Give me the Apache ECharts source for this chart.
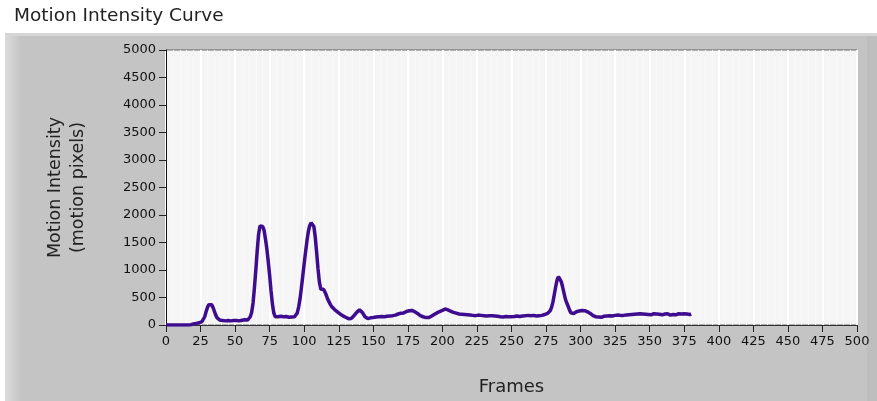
<!DOCTYPE html>
<html>
<head>
<meta charset="utf-8">
<script src="https://cdn.jsdelivr.net/npm/echarts@6/dist/echarts.min.js"></script>
<style>
html,body{margin:0;padding:0;background:#ffffff;}
#chart{width:877px;height:401px;}
</style>
</head>
<body>
<div id="chart"></div>
<script>
const chartTitle = "Motion Intensity Curve";
const xAxisTitle = "Frames";
const yAxisTitle = "Motion Intensity\n(motion pixels)";
const xTicks = [0,25,50,75,100,125,150,175,200,225,250,275,300,325,350,375,400,425,450,475,500];
const yTicks = [0,500,1000,1500,2000,2500,3000,3500,4000,4500,5000];
const intensity = [
0,0,0,0,0,0,0,0,0,0,0,0,0,0,0,0,0,0,5,10,
20,25,30,35,40,50,60,90,150,240,
320,370,385,370,320,250,180,130,100,90,
85,80,90,75,85,80,90,75,85,80,
90,80,85,75,90,85,80,95,85,90,
110,150,230,400,680,1000,1350,1650,1800,1830,
1790,1720,1560,1380,1150,900,620,380,220,150,
140,150,135,160,145,150,140,155,150,140,
150,145,160,150,175,220,330,480,680,900,
1120,1330,1530,1700,1810,1860,1870,1790,1600,1320,
1020,780,650,640,650,600,540,470,420,370,
330,300,280,260,240,220,200,180,165,150,
140,125,115,110,120,140,170,200,230,260,
275,260,230,190,150,125,115,120,130,125,
135,130,145,140,150,145,155,160,150,165,
160,170,165,175,170,185,180,190,200,210,
215,225,220,235,245,250,260,255,265,250,
240,225,210,190,170,160,150,140,135,130,
135,145,160,175,190,205,220,235,245,255,
265,280,290,285,275,260,250,240,230,220,
215,210,200,205,195,200,190,195,185,190,
180,185,175,180,170,175,180,170,175,165,
170,175,165,180,170,160,170,175,165,170,
160,165,150,160,145,150,155,140,150,145,
150,160,155,150,165,160,155,170,165,160,
170,160,175,165,170,160,175,170,165,175,
170,180,175,185,190,200,210,230,260,320,
420,560,700,820,880,860,790,690,580,470,
400,340,270,220,200,210,230,240,250,255,
260,265,255,260,250,240,230,210,190,170,
160,150,155,145,150,140,150,160,170,165,
175,170,180,165,185,175,170,180,190,175,
185,175,190,180,195,185,200,190,205,195,
210,200,195,205,190,200,210,195,205,190,
200,185,195,205,190,200,180,195,205,185,
190,200,185,205,195,180,200,190,210,185,
195,205,180,200,190,205,185,200,195,190,
200
];
const frames = intensity.map((_, i) => i);
const seriesData = frames.map((f, i) => [f, intensity[i]]);

const chart = echarts.init(document.getElementById('chart'), null, {renderer: 'canvas'});
const font = 'DejaVu Sans';
chart.setOption({
  animation: false,
  backgroundColor: '#ffffff',
  graphic: [
    {type: 'rect', z: -10, shape: {x: 5, y: 33, width: 872, height: 368}, style: {fill: '#c4c4c4'}},
    {type: 'rect', z: -9, shape: {x: 5, y: 33, width: 16, height: 368},
      style: {fill: new echarts.graphic.LinearGradient(0, 0, 1, 0, [{offset: 0, color: '#dcdcdc'}, {offset: 1, color: '#c4c4c4'}])}},
    {type: 'rect', z: -9, shape: {x: 5, y: 33, width: 872, height: 3}, style: {fill: '#d6d6d6'}},
    {type: 'rect', z: -9, shape: {x: 867, y: 36, width: 10, height: 365}, style: {fill: '#bebebe'}},
    {type: 'text', left: 14, top: 7, style: {text: chartTitle, font: '18.5px "DejaVu Sans"', fill: '#222222'}}
  ],
  grid: {left: 166, top: 50, width: 691, height: 275, show: true, backgroundColor: '#f5f5f5', borderColor: '#666666', borderWidth: 1},
  xAxis: {
    type: 'value', min: 0, max: 500, interval: 25,
    name: xAxisTitle, nameLocation: 'middle', nameGap: 53,
    nameTextStyle: {fontFamily: font, fontSize: 18, color: '#222222'},
    axisLine: {show: true, lineStyle: {color: '#333333', width: 1}},
    axisTick: {show: true, inside: false, length: 7, lineStyle: {color: '#222222'}},
    axisLabel: {fontFamily: font, fontSize: 13, color: '#111111', margin: 10,
      formatter: v => String(v)},
    splitLine: {show: true, lineStyle: {color: '#ffffff', width: 2}},
    minorTick: {show: false, splitNumber: 5},
    minorSplitLine: {show: true, lineStyle: {color: '#f9f9f9', width: 1}}
  },
  yAxis: {
    type: 'value', min: 0, max: 5000, interval: 500,
    name: yAxisTitle, nameLocation: 'middle', nameGap: 76, nameRotate: 90,
    nameTextStyle: {fontFamily: font, fontSize: 17.5, color: '#222222', lineHeight: 23},
    axisLine: {show: true, lineStyle: {color: '#111111', width: 1}},
    axisTick: {show: true, length: 7, lineStyle: {color: '#222222'}},
    axisLabel: {fontFamily: font, fontSize: 13, color: '#111111', margin: 10,
      formatter: v => String(v)},
    splitLine: {show: false}
  },
  series: [{
    type: 'line', data: seriesData, showSymbol: false, symbol: 'none',
    lineStyle: {color: '#3e0c8e', width: 3.5}, clip: true
  }]
});
</script>
</body>
</html>
